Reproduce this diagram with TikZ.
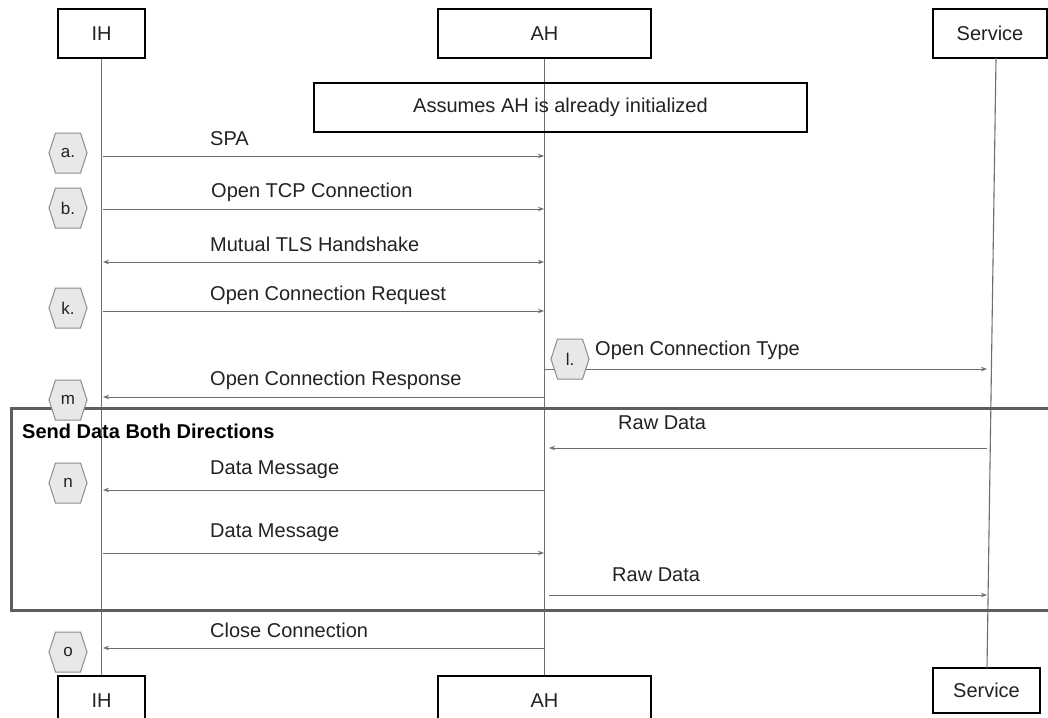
\documentclass[tikz,border=0pt]{standalone}
\usepackage{fontspec}
\setmainfont{Liberation Sans}
\usetikzlibrary{arrows.meta}
\definecolor{hexfill}{HTML}{E8E8E8}
\definecolor{hexline}{HTML}{8C8C8C}
\definecolor{msgline}{HTML}{6E6E6E}
\definecolor{frameline}{HTML}{5E5E5E}
\definecolor{txt}{HTML}{222222}
\tikzset{
  actor/.style={draw=black, line width=1.1pt, inner sep=0pt, text=txt, font=\fontsize{20}{24}\selectfont},
  lifeline/.style={draw=msgline, line width=1.1pt},
  msg/.style={draw=msgline, line width=1pt, -{Stealth[length=6pt,width=4.5pt]}},
  bimsg/.style={draw=msgline, line width=1pt, {Stealth[length=6pt,width=4.5pt]}-{Stealth[length=6pt,width=4.5pt]}},
  lbl/.style={anchor=base west, inner sep=0pt, text=txt, font=\fontsize{20}{24}\selectfont},
  pics/hexmark/.style={code={
    \draw[fill=hexfill, draw=hexline, line width=1pt] (-19,0) -- (-12.5,-20) -- (12.5,-20) -- (19,0) -- (12.5,20) -- (-12.5,20) -- cycle;
    \node[inner sep=0pt, text=txt, font=\fontsize{17}{20}\selectfont] (-t) at (0,0) {#1};
  }}
}
\begin{document}
\begin{tikzpicture}[x=1pt,y=-1pt]
\useasboundingbox (0,0) rectangle (1048,717);
\fill[white] (0,0) rectangle (1048,717);
% actors
\node[actor, minimum width=87pt, minimum height=49pt] (IHt) at (101.5,33.5) {IH};
\node[actor, minimum width=213pt, minimum height=49pt] (AHt) at (544.5,33.5) {AH};
\node[actor, minimum width=114pt, minimum height=49pt] (SVt) at (990,33.5) {Service};
\node[actor, minimum width=87pt, minimum height=49pt] (IHb) at (101.5,700.5) {IH};
\node[actor, minimum width=213pt, minimum height=49pt] (AHb) at (544.5,700.5) {AH};
\node[actor, minimum width=107pt, minimum height=45pt] (SVb) at (986.5,690.5) {Service};
% lifelines
\coordinate (svtop) at (996,58);
\coordinate (svbot) at (987,668);
\draw[lifeline] (IHt.south) -- (IHb.north);
\draw[lifeline] (AHt.south) -- (AHb.north);
\draw[lifeline] (svtop) -- (svbot);
\coordinate (ihr) at (103,0);
\coordinate (ahl) at (544,0);
\coordinate (ahr) at (549,0);
% note
\node[draw=black, line width=1.1pt, minimum width=493pt, minimum height=49pt, inner sep=0pt, text=txt, font=\fontsize{20}{24}\selectfont] (note) at (560.5,107.5) {Assumes AH is already initialized};
% messages
\draw[msg] (ihr |- 0,156) -- (ahl |- 0,156);
\node[lbl] (lspa) at (210,145) {SPA};
\draw[msg] (ihr |- 0,209) -- (ahl |- 0,209);
\node[lbl] (ltcp) at (211,197) {Open TCP Connection};
\draw[bimsg] (ihr |- 0,262) -- (ahl |- 0,262);
\node[lbl] (ltls) at (210,251) {Mutual TLS Handshake};
\draw[msg] (ihr |- 0,311) -- (ahl |- 0,311);
\node[lbl] (lreq) at (210,300) {Open Connection Request};
\draw[msg] (AHt.south |- 0,369) -- (svbot |- 0,369);
\node[lbl] (ltype) at (595,355) {Open Connection Type};
\draw[msg] (AHt.south |- 0,397) -- (ihr |- 0,397);
\node[lbl] (lresp) at (210,385) {Open Connection Response};
\draw[msg] (svbot |- 0,448) -- (ahr |- 0,448);
\node[lbl] (lraw1) at (618,429) {Raw Data};
\draw[msg] (AHt.south |- 0,490) -- (ihr |- 0,490);
\node[lbl] (ldm1) at (210,474) {Data Message};
\draw[msg] (ihr |- 0,553) -- (ahl |- 0,553);
\node[lbl] (ldm2) at (210,537) {Data Message};
\draw[msg] (ahr |- 0,595) -- (svbot |- 0,595);
\node[lbl] (lraw2) at (612,581) {Raw Data};
\draw[msg] (AHt.south |- 0,648) -- (ihr |- 0,648);
\node[lbl] (lclose) at (210,637) {Close Connection};
% frame
\draw[draw=frameline, line width=3pt] (1052,408) -- (11.5,408) -- (11.5,610) -- (1052,610);
\node[anchor=base west, inner sep=0pt, text=black, font=\bfseries\fontsize{20}{24}\selectfont] (fr) at (22,438) {Send Data Both Directions};
% step markers
\pic (ha) at (68,153) {hexmark=a.};
\pic (hb) at (68,208) {hexmark=b.};
\pic (hk) at (68,308) {hexmark=k.};
\pic (hl) at (570,359) {hexmark=l.};
\pic (hm) at (68,400) {hexmark=m};
\pic (hn) at (68,483) {hexmark=n};
\pic (ho) at (68,652) {hexmark=o};
\end{tikzpicture}
\end{document}
